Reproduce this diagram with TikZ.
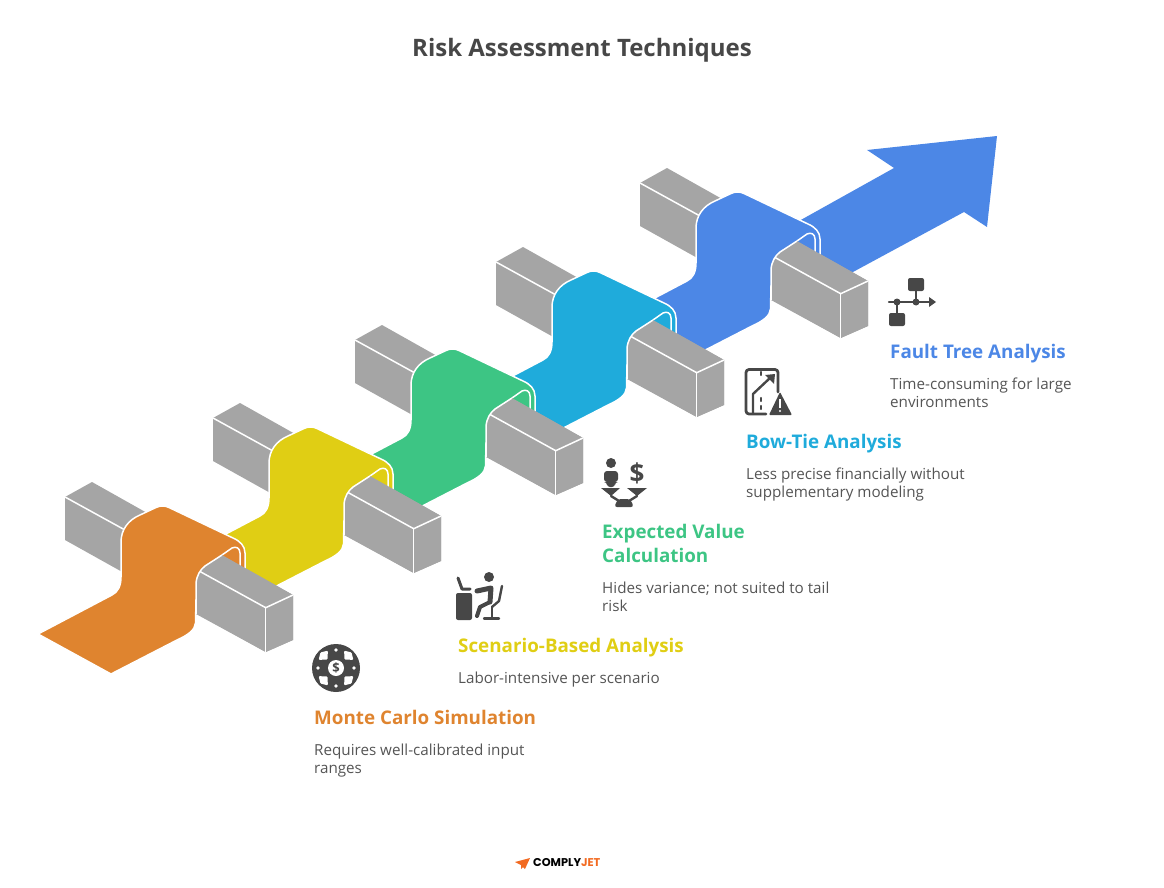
\documentclass[tikz,border=0pt]{standalone}
\usepackage{fontspec}
\setmainfont{Open Sans}
\newfontfamily\logofont{Poppins}
\definecolor{montecol}{HTML}{DF842F}
\definecolor{scencol}{HTML}{E0CE14}
\definecolor{expcol}{HTML}{3DC584}
\definecolor{bowcol}{HTML}{1FABDB}
\definecolor{faultcol}{HTML}{4C87E6}
\definecolor{beamcol}{HTML}{A5A5A5}
\definecolor{iconcol}{HTML}{474747}
\definecolor{bodycol}{HTML}{555555}
\definecolor{logocol}{HTML}{F26A21}
\begin{document}
\begin{tikzpicture}[x=1pt,y=-1pt]
    \tikzstyle{rim} = [draw=white, line width=1.5pt, line join=round]
    \tikzstyle{beam} = [fill=beamcol, draw=none]
    \tikzstyle{title} = [inner sep=0pt, anchor=center, text=iconcol, font=\fontsize{24}{28}\selectfont\bfseries]
    \tikzstyle{head} = [inner sep=0pt, anchor=north west, align=left, font=\fontsize{18.8}{24}\selectfont\bfseries]
    \tikzstyle{body} = [inner sep=0pt, anchor=north west, align=left, text=bodycol, font=\fontsize{15.2}{18}\selectfont]
    \tikzstyle{icon} = [fill=iconcol, draw=none]
    \tikzstyle{iconline} = [draw=iconcol, line width=2.4pt, line cap=round, line join=round]
    \useasboundingbox (0,0) rectangle (1164,888);
    % title
    \node[title] (title) at (582,50.5) {Risk Assessment Techniques};
    % arrow head behind the last ribbon
    \fill[faultcol] (790,226) -- (894,168) -- (867,150) -- (997,136) -- (987,227) -- (964,212) -- (853,272) -- (800,300) -- cycle;
    % ribbons, back to front
    \foreach \dx/\dy/\col in {575/-314/faultcol, 431/-235/bowcol, 290/-157/expcol, 148/-79/scencol, 0/0/montecol} {
        \begin{scope}[shift={(\dx,\dy)}]
            % beam
            \fill[beam] (65,497) -- (92,482) -- (293,595) -- (293,640) -- (265.7,652) -- (65,540) -- cycle;
            \draw[rim] (65,497) -- (125,530);
            % ribbon
            \path[fill=\col, rim] (38,634) -- (112,595) .. controls (118,592) and (121,586) .. (121,577)
                -- (121,542) .. controls (121,530) and (128,520) .. (140,515)
                -- (156,507.5) .. controls (160,505.5) and (165,505.5) .. (169,507.5)
                -- (233,538) .. controls (240,541) and (245,546) .. (245,553)
                -- (245,575) -- (205,590) -- (196,600) -- (195.5,623)
                .. controls (195,630) and (188,635) .. (177,640) -- (111,674) -- cycle;
            \draw[rim] (222,555) -- (232,548) .. controls (236,546) and (240,548) .. (240,553) -- (240,566);
            % front of the beam
            \fill[beam] (196,614) -- (196,583) .. controls (197,575) and (200,570) .. (205,566)
                -- (222,555) -- (293,595) -- (293,640) -- (265.7,652) -- cycle;
            \draw[rim] (196,614) -- (196,583) .. controls (197,575) and (200,570) .. (205,566) -- (222,555);
            \draw[rim] (200,571.5) -- (265.7,607.7) -- (293,595);
            \draw[rim] (265.7,607.7) -- (265.7,652);
        \end{scope}
    }
    %%% labels
    % fault tree
    \node[head,text=faultcol] (fault) at (890,344.5) {Fault Tree Analysis};
    \node[body] (faulttxt) at (890,377.5) {Time-consuming for large\\environments};
    % bow-tie
    \node[head,text=bowcol] (bow) at (746,434.5) {Bow-Tie Analysis};
    \node[body] (bowtxt) at (746,467.5) {Less precise financially without\\supplementary modeling};
    % expected value
    \node[head,text=expcol] (exp) at (602,524.5) {Expected Value\\Calculation};
    \node[body] (exptxt) at (602,581.5) {Hides variance; not suited to tail\\risk};
    % scenario
    \node[head,text=scencol] (scen) at (458,638.5) {Scenario-Based Analysis};
    \node[body] (scentxt) at (458,671.5) {Labor-intensive per scenario};
    % monte carlo
    \node[head,text=montecol] (monte) at (314,710.5) {Monte Carlo Simulation};
    \node[body] (montetxt) at (314,743.5) {Requires well-calibrated input\\ranges};
    %%% icons
    % fault tree
    \fill[icon, rounded corners=2pt] (908,278) rectangle (924,291);
    \fill[icon, rounded corners=2pt] (889,313) rectangle (905,326);
    \draw[iconline] (916,291) -- (916,302);
    \draw[iconline] (897,302) -- (897,313);
    \draw[iconline] (889,302) -- (930,302);
    \fill[icon] (929,297) -- (936,302) -- (929,307) -- cycle;
    \fill[icon] (897,302) circle (3.5);
    \fill[icon] (916,302) circle (3.5);
    % bow-tie
    \draw[iconline, line width=2.8pt, rounded corners=3pt] (766,414) -- (746,414) -- (746,369.5) -- (778,369.5) -- (778,392);
    \draw[iconline] (753,414) -- (753,394) -- (770,378);
    \fill[icon] (765,375) -- (775,374) -- (774,384) -- cycle;
    \draw[iconline, dash pattern=on 3pt off 5pt] (761,372) -- (761,378);
    \draw[iconline, dash pattern=on 3pt off 5pt] (761,398) -- (761,412);
    \fill[icon, rounded corners=1pt] (780,392) -- (792,415) -- (769,415) -- cycle;
    \fill[white] (779,399) rectangle (781,408);
    \fill[white] (780,411) circle (1.2);
    % expected value
    \fill[icon] (611,463) circle (5);
    \fill[icon, rounded corners=3pt] (604,471) -- (618,471) -- (618,482) -- (615,482) -- (615,487) -- (607,487) -- (607,482) -- (604,482) -- cycle;
    \node[inner sep=0pt, text=iconcol, font=\fontsize{26}{26}\selectfont\bfseries] (dollar) at (637,473) {\$};
    \fill[icon] (601,488) -- (620,488) -- (611,496) -- cycle;
    \fill[icon] (627,488) -- (647,488) -- (637,496) -- cycle;
    \fill[icon, rounded corners=3pt] (614,507) -- (618,499) -- (630,499) -- (634,507) -- cycle;
    \draw[iconline] (611,496) -- (619,501);
    \draw[iconline] (637,496) -- (629,501);
    % scenario
    \fill[icon] (489,577) circle (5);
    \fill[icon, rounded corners=2pt] (456,593) rectangle (472,620);
    \draw[iconline, line width=3pt] (458,578) -- (462,589) -- (470,589);
    \draw[iconline, line width=5pt] (477,591) -- (491,588) -- (490,602);
    \draw[iconline, line width=4pt] (490,602) -- (480,607) -- (477,616);
    \draw[iconline] (502,586) -- (499,601) -- (492,607);
    \draw[iconline] (492,607) -- (492,618);
    \draw[iconline] (484,618.5) -- (499,618.5);
    % monte carlo
    \fill[icon] (336,668) circle (24);
    \foreach \ang in {45,135,225,315} {
        \fill[white, rounded corners=1pt, rotate around={\ang:(336,668)}] (348,668) -- (354,661.5) -- (358,668) -- (354,674.5) -- cycle;
    }
    \foreach \ang in {0,90,180,270} {
        \fill[white] (336,668) ++(\ang:18) circle (1.8);
    }
    \fill[white] (336,668) circle (8);
    \node[inner sep=0pt, text=iconcol, font=\fontsize{13}{13}\selectfont\bfseries] (chip) at (336,668) {\$};
    %%% logo
    \fill[logocol] (530,858) -- (515,862) -- (521,865) -- (521,869) -- (523,867) -- (525,869) -- cycle;
    \node[inner sep=0pt, anchor=west, font=\fontsize{11.3}{10}\selectfont\logofont\bfseries] (logo) at (533,862.5) {COMPLY\textcolor{logocol}{JET}};
\end{tikzpicture}
\end{document}
